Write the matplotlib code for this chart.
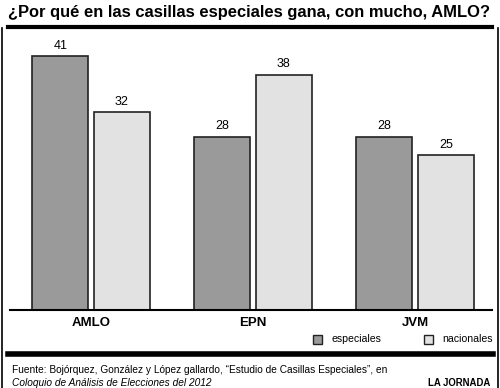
import numpy as np
import matplotlib.pyplot as plt
from matplotlib.patches import Rectangle
from matplotlib.lines import Line2D

plt.rcParams["font.family"] = ["Liberation Sans", "DejaVu Sans"]

categories = ["AMLO", "EPN", "JVM"]
especiales = [41, 28, 28]
nacionales = [32, 38, 25]
series_names = ["especiales", "nacionales"]

GRAY = "#9a9a9a"
LIGHT = "#e2e2e2"

W, H = 500, 388
fig = plt.figure(figsize=(W / 100, H / 100), dpi=100)


def fx(px):
    return px / W


def fy(py):
    return 1 - py / H


# frame and rules
fig.add_artist(Line2D([fx(1.5), fx(1.5)], [fy(28), 0], color="black", lw=1.2))
fig.add_artist(Line2D([fx(497.5), fx(497.5)], [fy(28), 0], color="black", lw=1.2))
fig.add_artist(Line2D([fx(8), fx(492)], [fy(27), fy(27)], color="black", lw=3))
fig.add_artist(Line2D([fx(8), fx(493)], [fy(354), fy(354)], color="black", lw=4))

fig.text(fx(8), fy(12), "¿Por qué en las casillas especiales gana, con mucho, AMLO?",
         fontsize=11.9, fontweight="bold", va="center", ha="left")

ax = fig.add_axes([fx(10), fy(310), fx(482), (310 - 30) / H])
x = np.arange(len(categories))
w = 0.345
b1 = ax.bar(x - 0.19, especiales, w, color=GRAY, edgecolor="#222222", lw=1.2)
b2 = ax.bar(x + 0.19, nacionales, w, color=LIGHT, edgecolor="#222222", lw=1.2)
for bars in (b1, b2):
    ax.bar_label(bars, padding=3, fontsize=9)
ax.set_xlim(-0.5, 2.475)
ax.set_ylim(0, 45.2)
for s in ["top", "right", "left"]:
    ax.spines[s].set_visible(False)
ax.spines["bottom"].set_linewidth(1.5)
ax.set_yticks([])
ax.set_xticks(x)
ax.set_xticklabels(categories, fontsize=9.5, fontweight="bold")
ax.tick_params(axis="x", length=0, pad=5)
ax.patch.set_alpha(0)

# legend
for px, name, col in [(313, series_names[0], GRAY), (424, series_names[1], LIGHT)]:
    fig.add_artist(Rectangle((fx(px), fy(343.5)), fx(9), 9 / H, facecolor=col,
                             edgecolor="#222222", lw=1, transform=fig.transFigure))
    fig.text(fx(px + 18), fy(339), name, fontsize=7.6, va="center", ha="left")

fig.text(fx(12), fy(370), "Fuente: Bojórquez, González y López gallardo, \u201cEstudio de Casillas Especiales\u201d, en",
         fontsize=7.3, va="center", ha="left")
fig.text(fx(12), fy(383), "Coloquio de Análisis de Elecciones del 2012",
         fontsize=7.3, va="center", ha="left", style="italic")
fig.text(fx(490), fy(383), "LA JORNADA", fontsize=6.9, fontweight="bold",
         va="center", ha="right")

fig.savefig("out.png", dpi=100)
